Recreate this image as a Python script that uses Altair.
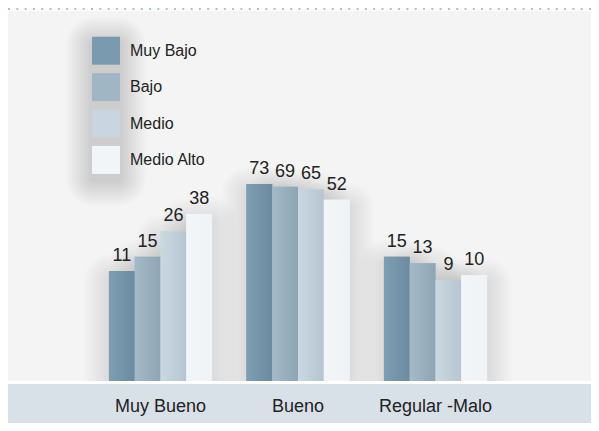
import altair as alt
import pandas as pd

categories = ["Muy Bueno", "Bueno", "Regular -Malo"]
series = ["Muy Bajo", "Bajo", "Medio", "Medio Alto"]
muy_bajo = [11, 73, 15]
bajo = [15, 69, 13]
medio = [26, 65, 9]
medio_alto = [38, 52, 10]

flat_colors = ["#7a9aaf", "#a0b6c5", "#c9d6df", "#f2f5f8"]
grad_left = ["#7e9eb3", "#a4bac9", "#cad8e2", "#f3f6f9"]
grad_right = ["#6c8ba0", "#8fa5b4", "#b6c5d0", "#f0f3f6"]

rows = []
for s, vals in zip(series, [muy_bajo, bajo, medio, medio_alto]):
    for c, v in zip(categories, vals):
        rows.append({"cat": c, "serie": s, "value": v})
df = pd.DataFrame(rows)

W, H = 583, 370
FONT = "Liberation Sans"

x_enc = alt.X(
    "cat:N", sort=categories,
    scale=alt.Scale(range=[83.75, 496.25], paddingInner=0.25, paddingOuter=0.125),
    axis=alt.Axis(title=None, labelAngle=0, ticks=False, tickSize=0, domain=False,
                  grid=False, labelFontSize=18, labelColor="#222222",
                  labelBaseline="alphabetic", labelPadding=30.7, labelFont=FONT,
                  zindex=2),
)
xo_enc = alt.XOffset("serie:N", sort=series,
                     scale=alt.Scale(paddingInner=0, paddingOuter=0))
y_enc = alt.Y("value:Q", scale=alt.Scale(type="log", domain=[1, 3170]),
              axis=None, stack=None)
y2_enc = alt.Y2(datum=1)

base = alt.Chart(df)
one = alt.Chart(pd.DataFrame({"k": [0]}))

layers = []

# bottom strip
layers.append(one.mark_rect(color="#d9e1e8").encode(
    x=alt.value(0), x2=alt.value(W), y=alt.value(373), y2=alt.value(412)))
# dotted top line
layers.append(one.mark_rule(strokeDash=[2, 6.3], strokeWidth=2, color="#a8c1d9").encode(
    x=alt.value(0), x2=alt.value(W), y=alt.value(-2)))

# legend swatch-column shadow (soft)
bx0, bx1, by0, by1 = 84, 112, 26, 163
for k in range(26, 0, -2):
    layers.append(one.mark_rect(color="#000000", opacity=0.011, cornerRadius=k + 2).encode(
        x=alt.value(bx0 - k), x2=alt.value(bx1 + k),
        y=alt.value(by0 - k + 6), y2=alt.value(by1 + k + 6)))

# bar shadows (soft, shifted down)
for w in range(50, 2, -4):
    layers.append(base.mark_bar(fill="#000000", fillOpacity=0, stroke="#000000",
                                strokeOpacity=0.0065, strokeWidth=w, strokeJoin="round",
                                clip=True).encode(x=x_enc, xOffset=xo_enc, y=y_enc, y2=y2_enc,
                                                  yOffset=alt.value(8)))

# flat bars carrying the legend
layers.append(base.mark_bar().encode(
    x=x_enc, xOffset=xo_enc, y=y_enc, y2=y2_enc,
    color=alt.Color("serie:N", sort=series,
                    scale=alt.Scale(domain=series, range=flat_colors),
                    legend=alt.Legend(title=None, orient="none", legendX=84, legendY=25.7,
                                      symbolType="square", symbolSize=784,
                                      symbolStrokeWidth=0, symbolOpacity=1,
                                      labelFontSize=16, labelFont=FONT,
                                      labelColor="#222222", labelOffset=10,
                                      rowPadding=8.4, padding=0))))

# gradient overlays
for s, l, r in zip(series, grad_left, grad_right):
    layers.append(base.transform_filter(alt.datum.serie == s).mark_bar(
        color=alt.LinearGradient(gradient="linear",
                                 stops=[alt.GradientStop(color=l, offset=0),
                                        alt.GradientStop(color=r, offset=1)],
                                 x1=0, x2=1, y1=0, y2=0)
    ).encode(x=x_enc, xOffset=xo_enc, y=y_enc, y2=y2_enc))

# value labels
layers.append(base.mark_text(dy=-10, baseline="alphabetic", fontSize=18, font=FONT,
                             color="#222222").encode(
    x=x_enc, xOffset=xo_enc, y=y_enc, text="value:Q"))

chart = alt.layer(*layers).properties(
    width=W, height=H,
    autosize=alt.AutoSizeParams(type="none"),
    padding={"left": 0, "top": 3, "right": 0, "bottom": 42},
).configure_view(fill="#f4f4f4", stroke=None)

chart.save("out.html", embed_options={"renderer": "svg", "actions": False})
